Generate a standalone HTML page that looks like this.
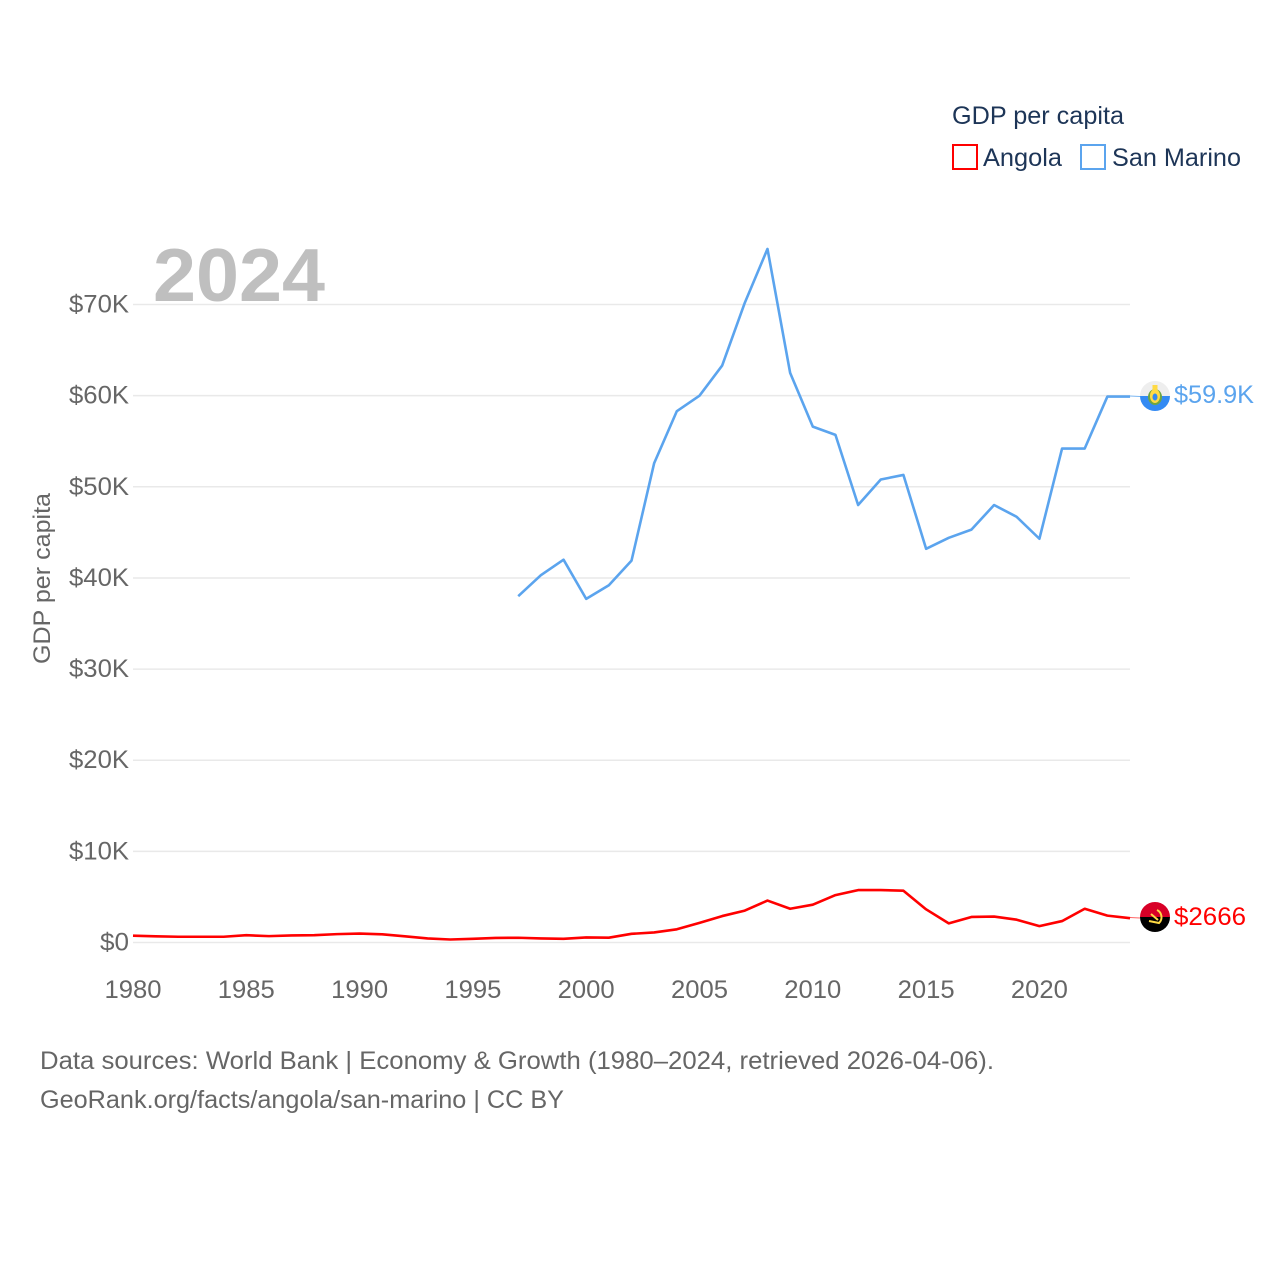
<!DOCTYPE html>
<html lang="en">
<head>
<meta charset="utf-8">
<title>GDP per capita: Angola and San Marino</title>
<style>
html,body{margin:0;padding:0;background:#fff;width:1280px;height:1280px;overflow:hidden}
svg{display:block;font-family:"Liberation Sans",sans-serif}
</style>
</head>
<body>
<svg id="chart" width="1280" height="1280" viewBox="0 0 1280 1280" xmlns="http://www.w3.org/2000/svg">
  <defs>
    <clipPath id="flag-clip-sm"><circle cx="1155" cy="396" r="15"/></clipPath>
    <clipPath id="flag-clip-ao"><circle cx="1155" cy="917" r="15"/></clipPath>
  </defs>
  <g id="grid"></g>
  <text x="153" y="301" font-size="75" font-weight="700" fill="#bfbfbf" textLength="172" lengthAdjust="spacingAndGlyphs">2024</text>
  <g id="y-ticks"></g>
  <g id="x-ticks"></g>
  <text transform="translate(50,664) rotate(-90)" font-size="24" fill="#666" textLength="171" lengthAdjust="spacingAndGlyphs">GDP per capita</text>
  <g id="series"></g>

  <g>
    <text x="952" y="124" font-size="25" fill="#1d3557" textLength="172" lengthAdjust="spacingAndGlyphs">GDP per capita</text>
    <rect x="953" y="145" width="24" height="24" fill="#fff" stroke="#ff0000" stroke-width="2"/>
    <text x="983" y="166" font-size="25" fill="#1d3557" textLength="79" lengthAdjust="spacingAndGlyphs">Angola</text>
    <rect x="1081" y="145" width="24" height="24" fill="#fff" stroke="#5ba4ee" stroke-width="2"/>
    <text x="1112" y="166" font-size="25" fill="#1d3557" textLength="129" lengthAdjust="spacingAndGlyphs">San Marino</text>
  </g>

  <line x1="1130" y1="917.5" x2="1140" y2="918" stroke="#ff0000" stroke-width="1" opacity=".6"/>
  <line x1="1130" y1="396" x2="1140" y2="396.5" stroke="#5ba4ee" stroke-width="1" opacity=".8"/>
  <g clip-path="url(#flag-clip-sm)">
    <rect x="1140" y="381" width="30" height="15" fill="#eeeeee"/>
    <rect x="1140" y="396" width="30" height="15" fill="#338af3"/>
    <ellipse cx="1155" cy="397" rx="7" ry="8" fill="#6da544"/>
    <ellipse cx="1155" cy="396" rx="5" ry="7" fill="#ffda44"/>
    <ellipse cx="1155" cy="397" rx="2.5" ry="3.5" fill="#338af3"/>
    <rect x="1152.5" y="385" width="5" height="5" fill="#ffda44"/>
  </g>
  <g clip-path="url(#flag-clip-ao)">
    <rect x="1140" y="902" width="30" height="15" fill="#d80027"/>
    <rect x="1140" y="917" width="30" height="15" fill="#000000"/>
    <path d="M1157 910 A8 8 0 0 1 1159 923 L1149 921" fill="none" stroke="#ffda44" stroke-width="2"/>
    <path d="M1151 914 L1158 920" fill="none" stroke="#ffda44" stroke-width="2"/>
  </g>
  <text x="1174" y="403" font-size="25" fill="#5ba4ee" textLength="80" lengthAdjust="spacingAndGlyphs">$59.9K</text>
  <text x="1174" y="925" font-size="25" fill="#ff0000" textLength="72" lengthAdjust="spacingAndGlyphs">$2666</text>

  <text x="40" y="1069" font-size="25" fill="#666" textLength="954" lengthAdjust="spacingAndGlyphs">Data sources: World Bank | Economy &amp; Growth (1980–2024, retrieved 2026-04-06).</text>
  <text x="40" y="1108" font-size="25" fill="#666" textLength="524" lengthAdjust="spacingAndGlyphs">GeoRank.org/facts/angola/san-marino | CC BY</text>
</svg>
<script>
const startYear = 1980;
const xTickYears = ["1980","1985","1990","1995","2000","2005","2010","2015","2020"];
const yTickValues = [0,10,20,30,40,50,60,70];
const yTickLabels = ["$0","$10K","$20K","$30K","$40K","$50K","$60K","$70K"];
const angolaValues = [0.75,0.68,0.63,0.63,0.63,0.8,0.7,0.78,0.8,0.92,0.98,0.9,0.68,0.45,0.33,0.4,0.5,0.52,0.45,0.4,0.56,0.53,0.95,1.1,1.45,2.15,2.9,3.5,4.6,3.7,4.15,5.2,5.75,5.75,5.68,3.64,2.1,2.8,2.85,2.5,1.8,2.35,3.7,2.95,2.67];
const sanMarinoStartYear = 1997;
const sanMarinoValues = [38.0,40.3,42.0,37.7,39.2,41.9,52.6,58.3,60.0,63.3,70.2,76.1,62.5,56.6,55.7,48.0,50.8,51.3,43.2,44.4,45.3,48.0,46.7,44.3,54.2,54.2,59.9,59.9];

const NS = "http://www.w3.org/2000/svg";
function xScale(year){ return 133 + (Number(year) - 1980) * 22.66; }
function yScale(v){ return 942.5 - v * 9.114; }
function make(tag, parent, attrs){
  const el = document.createElementNS(NS, tag);
  for (const k in attrs) el.setAttribute(k, attrs[k]);
  parent.appendChild(el);
  return el;
}
const grid = document.getElementById("grid");
const yTicks = document.getElementById("y-ticks");
const xTicks = document.getElementById("x-ticks");
const series = document.getElementById("series");

yTickValues.forEach(function(v, i){
  const y = yScale(v);
  const line = make("line", grid, {x1:133, x2:1130, y1:y, y2:y, stroke:"#e9e9e9", "stroke-width":1.5});
  
  
  const w = yTickLabels[i].length === 2 ? 29 : 60;
  const t = make("text", yTicks, {x:129 - w, y:y + 8, "font-size":25, fill:"#666", textLength:w, lengthAdjust:"spacingAndGlyphs"});
  
  
  t.textContent = yTickLabels[i];
});

xTickYears.forEach(function(yr){
  const t = make("text", xTicks, {x:xScale(yr) - 28.5, y:998, "font-size":25, fill:"#666", textLength:57, lengthAdjust:"spacingAndGlyphs"});
  
  
  t.textContent = yr;
});

function pointsFor(values, firstYear){
  return values.map(function(v, i){
    return xScale(firstYear + i).toFixed(2) + "," + yScale(v).toFixed(2);
  }).join(" ");
}
const angolaLine = make("polyline", series, {points:pointsFor(angolaValues, startYear), fill:"none", stroke:"#ff0000", "stroke-width":2.6, "stroke-linejoin":"round"});


const sanMarinoLine = make("polyline", series, {points:pointsFor(sanMarinoValues, sanMarinoStartYear), fill:"none", stroke:"#5ba4ee", "stroke-width":2.6, "stroke-linejoin":"round"});


</script>
</body>
</html>
